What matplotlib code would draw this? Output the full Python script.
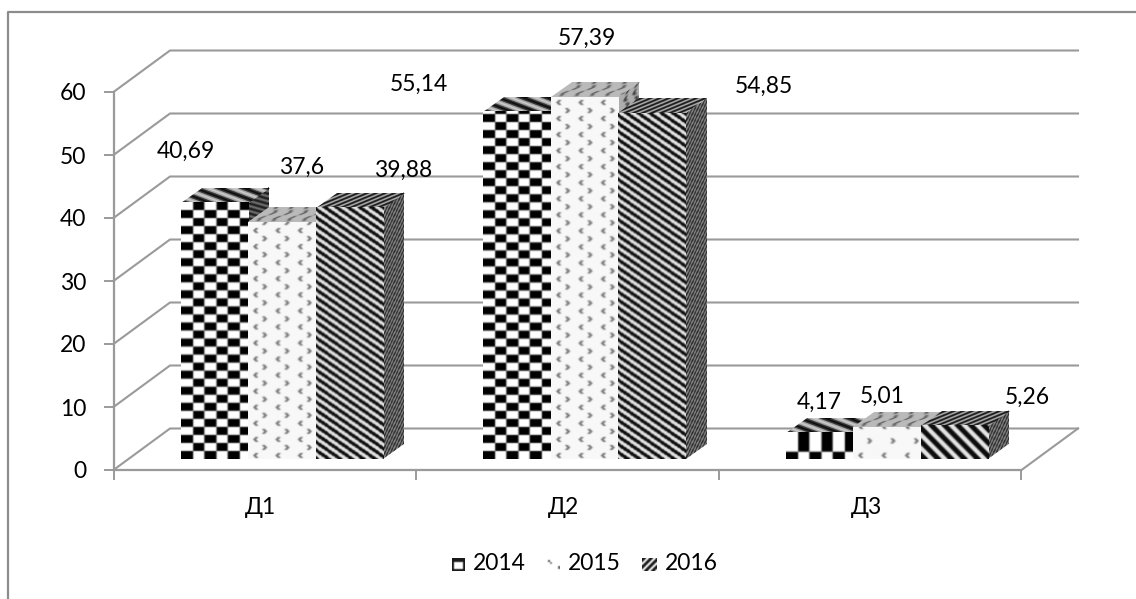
"""Clustered pseudo-3D column chart with textured faces, years 2014-2016."""

import matplotlib

matplotlib.use("Agg")

import matplotlib.pyplot as plt
import numpy as np
from matplotlib.transforms import Affine2D, IdentityTransform

CATEGORIES = ["Д1", "Д2", "Д3"]
YEARS = ["2014", "2015", "2016"]
VALUES_2014 = [40.69, 55.14, 4.17]
VALUES_2015 = [37.6, 57.39, 5.01]
VALUES_2016 = [39.88, 54.85, 5.26]
Y_TICKS = [0, 10, 20, 30, 40, 50, 60]

# label placement, pixels from the front top centre of each column
LABEL_OFFSETS = {
    "2014": [(-28, 51), (-98, 27), (0, 30)],
    "2015": [(20, 55), (2, 59), (-5, 31)],
    "2016": [(54, 37), (112, 27), (73, 29)],
}

W, H = 1136, 599
GREY = "#9a9a9a"
FLOOR_DX, FLOOR_DY = 56.5, 41.5   # back wall shift
BAR_DX, BAR_DY = 17, 11           # columns stand a little behind the front edge
DEPTH_DX, DEPTH_DY = 21, 15       # column depth
BAR_W = 67.6 / 303


def checker(w, h, rows=None):
    col = 11.4
    tex = np.ones((h, w))
    edges = np.cumsum(rows) if rows else None
    for i in range(h):
        y = h - 1 - i
        r = int(np.searchsorted(edges, y, side="right")) if rows else int(y // 8)
        for j in range(w):
            if (int(j // col) + r) % 2 == 0:
                tex[i, j] = 0.0
    return tex


def chevrons(w, h, col=22, row=8, tone=0.45):
    tex = np.full((h, w), 0.97)
    for r in range(h // row + 2):
        y0 = h - 4 - r * row
        flip = r % 2 == 0
        for c in range(w // col + 2):
            x0 = 5 + c * col + (0 if flip else col // 2)
            for k in range(-2, 3):
                xk = x0 + (abs(k) if flip else -abs(k))
                yk = y0 + k
                for step in range(3):
                    if 0 <= yk < h and 0 <= xk + step < w:
                        tex[yk, xk + step] = tone
    return tex


def stripes(w, h, period=8.0, slope=0.7, flip=False, low=0.05, high=0.9):
    yy, xx = np.mgrid[0:h, 0:w]
    s = -slope if flip else slope
    phase = ((yy - s * xx) % period) / period
    return np.where(phase < 0.5, low, high)


def soften(tex):
    kernel = np.array([0.2, 0.6, 0.2])
    out = np.apply_along_axis(lambda m: np.convolve(m, kernel, mode="same"), 0, np.pad(tex, 1, mode="edge"))
    out = np.apply_along_axis(lambda m: np.convolve(m, kernel, mode="same"), 1, out)
    return out[1:-1, 1:-1]


def front_texture(year, w, h, big):
    if year == "2014":
        return checker(w, h, [7, 21]) if big else checker(w, h)
    if year == "2015":
        return chevrons(w, h, col=23, row=14) if big else chevrons(w, h)
    return stripes(w, h, period=13, slope=1.0) if big else stripes(w, h)


def top_texture(year, w, h):
    if year == "2014":
        return stripes(w, h, period=6, slope=0.25, low=0.05, high=0.8)
    if year == "2015":
        return chevrons(w, h, col=15, row=6, tone=0.45) * 0.75
    return stripes(w, h, period=9, slope=1.0, flip=True, low=0.1, high=0.7)


def side_texture(year, w, h):
    if year == "2014":
        return stripes(w, h, period=5, slope=1.0, low=0.05, high=0.6)
    if year == "2015":
        return chevrons(w, h, col=9, row=7, tone=0.35) * 0.7
    return stripes(w, h, period=6, slope=1.4, flip=True, low=0.1, high=0.6)


def draw_face(ax, tex, origin, u, v, zorder):
    # map the unit square of the image onto a parallelogram in display pixels
    trans = Affine2D.from_values(u[0], u[1], v[0], v[1], origin[0], origin[1])
    im = ax.imshow(soften(tex), cmap="gray", vmin=0, vmax=1, extent=(0, 1, 0, 1), aspect="auto",
                   interpolation="bilinear", transform=trans, zorder=zorder)
    im.set_clip_on(False)


def draw_column(ax, left, value, year, zorder):
    x0, y0 = ax.transData.transform((left, 0))
    x1, y1 = ax.transData.transform((left + BAR_W, value))
    x0, x1 = x0 + BAR_DX, x1 + BAR_DX
    y0, y1 = y0 + BAR_DY, y1 + BAR_DY
    w, h = x1 - x0, y1 - y0
    big = value < 10

    side = side_texture(year, DEPTH_DX, max(int(h), 2))
    draw_face(ax, side, (x1, y0), (DEPTH_DX, DEPTH_DY), (0, h), zorder)
    top = top_texture(year, int(w), DEPTH_DY)
    draw_face(ax, top, (x0, y1), (w, 0), (DEPTH_DX, DEPTH_DY), zorder + 0.1)
    front = front_texture(year, int(w), max(int(h), 2), big)
    draw_face(ax, front, (x0, y0), (w, 0), (0, h), zorder + 0.2)
    return (x0 + x1) / 2, y1


plt.rcParams["font.family"] = ["Lato", "DejaVu Sans"]
plt.rcParams["font.size"] = 16.5

fig = plt.figure(figsize=(W / 100, H / 100), dpi=100)
ax = fig.add_axes([113.5 / W, 1 - 470 / H, 908 / W, 378 / H])
ax.set_autoscale_on(False)
ax.set_xlim(0, 3)
ax.set_ylim(0, 60)
ax.patch.set_alpha(0)

for side in ["top", "right"]:
    ax.spines[side].set_visible(False)
for side in ["left", "bottom"]:
    ax.spines[side].set_color(GREY)
    ax.spines[side].set_linewidth(1.6)

ax.set_yticks(Y_TICKS)
ax.set_xticks([0, 1, 2, 3], [])
ax.tick_params(axis="both", color=GREY, width=1.4, length=7.5)
ax.tick_params(axis="y", pad=12, labelcolor="black")

for i, name in enumerate(CATEGORIES):
    ax.annotate(name, (i + 0.5, 0), xytext=(-4, -38), xycoords="data", textcoords="offset pixels",
                ha="center", va="center")

# back wall and floor, shifted away from the front axes
for tick in Y_TICKS:
    px = ax.transData.transform([(0, tick), (3, tick)])
    back = px + (FLOOR_DX, FLOOR_DY)
    ax.plot([px[0, 0], back[0, 0], back[1, 0]], [px[0, 1], back[0, 1], back[1, 1]],
            color=GREY, lw=1.5, transform=IdentityTransform(), clip_on=False, zorder=1)
px = ax.transData.transform([(3, 0)])[0]
ax.plot([px[0], px[0] + FLOOR_DX], [px[1], px[1] + FLOOR_DY], color=GREY, lw=1.5,
        transform=IdentityTransform(), clip_on=False, zorder=1)

series = {"2014": VALUES_2014, "2015": VALUES_2015, "2016": VALUES_2016}
for i in range(len(CATEGORIES)):
    for k, year in enumerate(YEARS):
        value = series[year][i]
        left = i + 0.5 + (k - 1.5) * BAR_W
        cx, cy = draw_column(ax, left, value, year, 3 + i + k * 0.3)
        dx, dy = LABEL_OFFSETS[year][i]
        ax.text(cx + dx, cy + dy, str(value).replace(".", ","), ha="center", va="center",
                transform=IdentityTransform(), zorder=10)

# legend row
box_swatch = np.ones((13, 13))
box_swatch[:4, :] = 0.1
box_swatch[-2:, :] = 0.1
box_swatch[:, :2] = 0.1
box_swatch[:, -2:] = 0.1
speck_swatch = np.ones((13, 13))
speck_swatch[2:4, 1:3] = 0.3
speck_swatch[4:6, 3:5] = 0.5
speck_swatch[8:11, 11:13] = 0.4
swatches = {
    "2014": (452, box_swatch),
    "2015": (547, speck_swatch),
    "2016": (642, stripes(15, 13, period=7, slope=1.0, flip=True, low=0.1, high=0.95)),
}
text_x = {"2014": 499, "2015": 594, "2016": 691}
for year in YEARS:
    x, tex = swatches[year]
    h, w = tex.shape
    draw_face(ax, tex, (x, H - 571), (w, 0), (0, h), 10)
    fig.text(text_x[year] / W, 1 - 564 / H, year, ha="center", va="center")

# chart frame: open on the right and at the bottom
ax.plot([8, 8, W], [0, H - 12, H - 12], color="#8c8c8c", lw=1.6,
        transform=IdentityTransform(), clip_on=False, zorder=1)

fig.savefig("out.png", dpi=100)
plt.close(fig)
